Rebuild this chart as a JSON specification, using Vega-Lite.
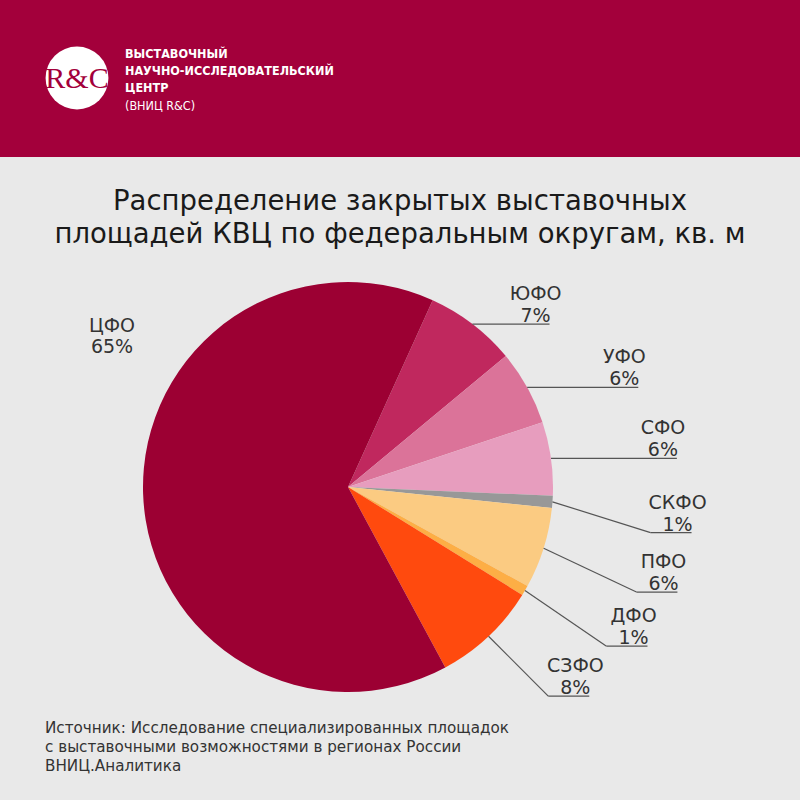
{
  "$schema": "https://vega.github.io/schema/vega-lite/v6.json",
  "padding": 0,
  "spacing": 0,
  "background": "#E9E9E9",
  "config": {"view": {"stroke": null}, "font": "DejaVu Sans"},
  "datasets": {
    "districts": [
      {"district": "ЮФО", "share": 7.2},
      {"district": "УФО", "share": 5.9},
      {"district": "СФО", "share": 5.8},
      {"district": "СКФО", "share": 0.95},
      {"district": "ПФО", "share": 6.4},
      {"district": "ДФО", "share": 0.8},
      {"district": "СЗФО", "share": 8.3},
      {"district": "ЦФО", "share": 64.65}
    ]
  },
  "vconcat": [
    {
      "width": 800,
      "height": 157,
      "view": {"fill": "#A3003B", "stroke": null},
      "layer": [
        {
          "data": {"values": [{"t": "logo"}]},
          "mark": {"type": "point", "shape": "circle", "filled": true, "fill": "#FFFFFF", "opacity": 1, "size": 3950, "strokeWidth": 0},
          "encoding": {
            "x": {"datum": -1.32195, "type": "quantitative", "scale": {"domain": [-1.69756, 2.20488], "nice": false, "zero": false}, "axis": null},
            "y": {"datum": 1.99512, "type": "quantitative", "scale": {"domain": [1.60976, 2.37561], "nice": false, "zero": false}, "axis": null}
          }
        },
        {
          "data": {"values": [{"t": "R&C"}]},
          "mark": {"type": "text", "font": "Liberation Serif", "fontSize": 30, "fill": "#A3003B", "align": "center", "baseline": "alphabetic", "letterSpacing": -2.5},
          "encoding": {
            "x": {"datum": -1.32195, "type": "quantitative", "scale": {"domain": [-1.69756, 2.20488], "nice": false, "zero": false}, "axis": null},
            "y": {"datum": 1.94634, "type": "quantitative", "scale": {"domain": [1.60976, 2.37561], "nice": false, "zero": false}, "axis": null},
            "text": {"field": "t"}
          }
        },
        {
          "data": {"values": [{"t": "ВЫСТАВОЧНЫЙ\nНАУЧНО-ИССЛЕДОВАТЕЛЬСКИЙ\nЦЕНТР"}]},
          "mark": {"type": "text", "font": "DejaVu Sans Condensed, Roboto Condensed, Roboto", "fontSize": 12.5, "fontWeight": "bold", "letterSpacing": -0.35, "fill": "#FFFFFF", "align": "left", "baseline": "alphabetic", "lineBreak": "\n", "lineHeight": 17},
          "encoding": {
            "x": {"datum": -1.0878, "type": "quantitative", "scale": {"domain": [-1.69756, 2.20488], "nice": false, "zero": false}, "axis": null},
            "y": {"datum": 2.09268, "type": "quantitative", "scale": {"domain": [1.60976, 2.37561], "nice": false, "zero": false}, "axis": null},
            "text": {"field": "t"}
          }
        },
        {
          "data": {"values": [{"t": "(ВНИЦ R&C)"}]},
          "mark": {"type": "text", "font": "DejaVu Sans Condensed, Roboto Condensed, Roboto", "fontSize": 12.5, "letterSpacing": -0.2, "fill": "#FFFFFF", "align": "left", "baseline": "alphabetic"},
          "encoding": {
            "x": {"datum": -1.0878, "type": "quantitative", "scale": {"domain": [-1.69756, 2.20488], "nice": false, "zero": false}, "axis": null},
            "y": {"datum": 1.83902, "type": "quantitative", "scale": {"domain": [1.60976, 2.37561], "nice": false, "zero": false}, "axis": null},
            "text": {"field": "t"}
          }
        }
      ]
    },
    {
      "width": 800,
      "height": 643,
      "layer": [
        {
          "data": {"values": [{"t": "Распределение закрытых выставочных\nплощадей КВЦ по федеральным округам, кв. м"}]},
          "mark": {"type": "text", "fontSize": 27.5, "fill": "#1A1A1A", "align": "center", "baseline": "alphabetic", "lineBreak": "\n", "lineHeight": 33},
          "encoding": {
            "x": {"datum": 0.25366, "type": "quantitative", "scale": {"domain": [-1.69756, 2.20488], "nice": false, "zero": false}, "axis": null},
            "y": {"datum": 1.35122, "type": "quantitative", "scale": {"domain": [-1.52683, 1.60976], "nice": false, "zero": false}, "axis": null},
            "text": {"field": "t"}
          }
        },
        {
          "data": {"values": [{"t": "Источник: Исследование специализированных площадок\nс выставочными возможностями в регионах России\nВНИЦ.Аналитика"}]},
          "mark": {"type": "text", "fontSize": 15.2, "fill": "#333333", "align": "left", "baseline": "alphabetic", "lineBreak": "\n", "lineHeight": 19},
          "encoding": {
            "x": {"datum": -1.47805, "type": "quantitative", "scale": {"domain": [-1.69756, 2.20488], "nice": false, "zero": false}, "axis": null},
            "y": {"datum": -1.2, "type": "quantitative", "scale": {"domain": [-1.52683, 1.60976], "nice": false, "zero": false}, "axis": null},
            "text": {"field": "t"}
          }
        },
        {
          "data": {"name": "districts"},
          "transform": [
            {"window": [{"op": "row_number", "as": "idx"}, {"op": "sum", "field": "share", "as": "cum"}]},
            {"calculate": "(24.4 + (datum.cum - datum.share / 2) * 3.6) * PI / 180", "as": "m"},
            {"calculate": "sin(datum.m)", "as": "sx"},
            {"calculate": "cos(datum.m)", "as": "sy"},
            {"calculate": "datum.sy > 0 ? 1.62 * datum.sx : 1.6 * datum.sx + 0.08", "as": "endx"},
            {"calculate": "datum.sy > 0 ? datum.sx : datum.endx - 0.2", "as": "ex"},
            {"calculate": "datum.sy > 0 ? datum.sy : max(1.28 * datum.sy - 0.13, -1.02)", "as": "ly"},
            {"calculate": "datum.endx - 0.068", "as": "tx"},
            {"calculate": "datum.ly + 0.117", "as": "ty"},
            {"calculate": "datum.district + '\\n' + format(datum.share, '.0f') + '%'", "as": "label"}
          ],
          "layer": [
            {
              "mark": {"type": "arc", "outerRadius": 205, "strokeWidth": 0},
              "encoding": {
                "x": {"datum": 0, "type": "quantitative", "scale": {"domain": [-1.69756, 2.20488], "nice": false, "zero": false}, "axis": null},
                "y": {"datum": 0, "type": "quantitative", "scale": {"domain": [-1.52683, 1.60976], "nice": false, "zero": false}, "axis": null},
                "theta": {"field": "share", "type": "quantitative", "stack": true, "scale": {"range": [0.42586, 6.70905]}},
                "order": {"field": "idx", "type": "quantitative"},
                "color": {
                  "field": "district",
                  "type": "nominal",
                  "legend": null,
                  "scale": {
                    "domain": ["ЮФО", "УФО", "СФО", "СКФО", "ПФО", "ДФО", "СЗФО", "ЦФО"],
                    "range": ["#C0285E", "#DB7399", "#E79DBE", "#989898", "#FBCB82", "#FDAE45", "#FF4A0E", "#9C0033"]
                  }
                }
              }
            },
            {
              "transform": [{"filter": "datum.district !== 'ЦФО'"}],
              "mark": {"type": "rule", "color": "#555555", "strokeWidth": 1.2},
              "encoding": {
                "x": {"field": "sx", "type": "quantitative", "scale": {"domain": [-1.69756, 2.20488], "nice": false, "zero": false}, "axis": null},
                "y": {"field": "sy", "type": "quantitative", "scale": {"domain": [-1.52683, 1.60976], "nice": false, "zero": false}, "axis": null},
                "x2": {"field": "ex"},
                "y2": {"field": "ly"}
              }
            },
            {
              "transform": [{"filter": "datum.district !== 'ЦФО'"}],
              "mark": {"type": "rule", "color": "#555555", "strokeWidth": 1.2},
              "encoding": {
                "x": {"field": "ex", "type": "quantitative", "scale": {"domain": [-1.69756, 2.20488], "nice": false, "zero": false}, "axis": null},
                "y": {"field": "ly", "type": "quantitative", "scale": {"domain": [-1.52683, 1.60976], "nice": false, "zero": false}, "axis": null},
                "x2": {"field": "endx"},
                "y2": {"field": "ly"}
              }
            },
            {
              "transform": [{"filter": "datum.district !== 'ЦФО'"}],
              "mark": {"type": "text", "fontSize": 19, "fill": "#333333", "align": "center", "baseline": "alphabetic", "lineBreak": "\n", "lineHeight": 22},
              "encoding": {
                "x": {"field": "tx", "type": "quantitative", "scale": {"domain": [-1.69756, 2.20488], "nice": false, "zero": false}, "axis": null},
                "y": {"field": "ty", "type": "quantitative", "scale": {"domain": [-1.52683, 1.60976], "nice": false, "zero": false}, "axis": null},
                "text": {"field": "label"}
              }
            },
            {
              "transform": [{"filter": "datum.district === 'ЦФО'"}],
              "mark": {"type": "text", "fontSize": 19, "fill": "#333333", "align": "center", "baseline": "alphabetic", "lineBreak": "\n", "lineHeight": 21},
              "encoding": {
                "x": {"datum": -1.15122, "type": "quantitative", "scale": {"domain": [-1.69756, 2.20488], "nice": false, "zero": false}, "axis": null},
                "y": {"datum": 0.7561, "type": "quantitative", "scale": {"domain": [-1.52683, 1.60976], "nice": false, "zero": false}, "axis": null},
                "text": {"field": "label"}
              }
            }
          ]
        }
      ]
    }
  ]
}
